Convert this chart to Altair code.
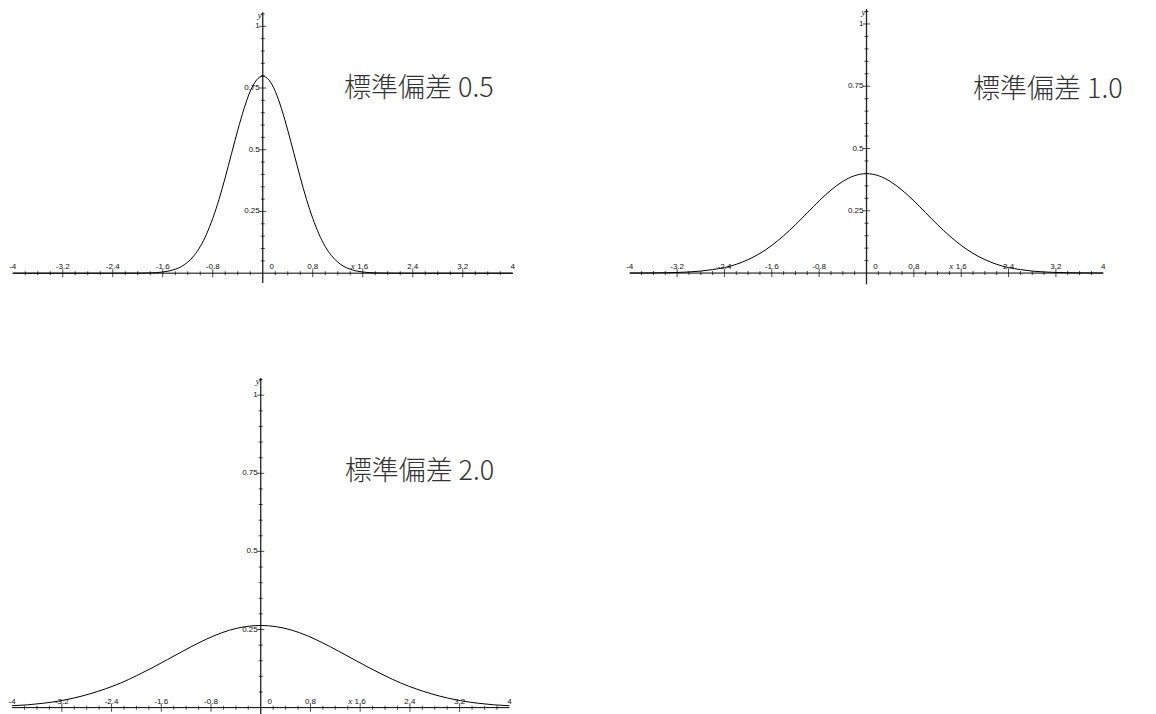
import altair as alt
import pandas as pd

# ---- curve data ----
P1_X = [-4.0, -3.0, -2.5, -2.0, -1.8, -1.6, -1.5, -1.4, -1.3, -1.2, -1.1, -1.0, -0.9, -0.8, -0.7,
        -0.6, -0.5, -0.4, -0.3, -0.2, -0.1, 0.0, 0.1, 0.2, 0.3, 0.4, 0.5, 0.6, 0.7, 0.8, 0.9, 1.0,
        1.1, 1.2, 1.3, 1.4, 1.5, 1.6, 1.8, 2.0, 2.5, 3.0, 4.0]
P1_Y = [0.0, 0.0, 0.0, 0.0003, 0.0012, 0.0048, 0.0089, 0.016, 0.027, 0.045, 0.071, 0.108, 0.158,
        0.222, 0.299, 0.388, 0.484, 0.579, 0.666, 0.737, 0.782, 0.798, 0.782, 0.737, 0.666, 0.579,
        0.484, 0.388, 0.299, 0.222, 0.158, 0.108, 0.071, 0.045, 0.027, 0.016, 0.0089, 0.0048,
        0.0012, 0.0003, 0.0, 0.0, 0.0]

P2_X = [-4.0, -3.8, -3.6, -3.4, -3.2, -3.0, -2.8, -2.6, -2.4, -2.2, -2.0, -1.8, -1.6, -1.4, -1.2,
        -1.0, -0.8, -0.6, -0.4, -0.2, 0.0, 0.2, 0.4, 0.6, 0.8, 1.0, 1.2, 1.4, 1.6, 1.8, 2.0, 2.2,
        2.4, 2.6, 2.8, 3.0, 3.2, 3.4, 3.6, 3.8, 4.0]
P2_Y = [0.0001, 0.0003, 0.0006, 0.0012, 0.0024, 0.0044, 0.0079, 0.014, 0.022, 0.035, 0.054, 0.079,
        0.111, 0.150, 0.194, 0.242, 0.290, 0.333, 0.368, 0.391, 0.399, 0.391, 0.368, 0.333, 0.290,
        0.242, 0.194, 0.150, 0.111, 0.079, 0.054, 0.035, 0.022, 0.014, 0.0079, 0.0044, 0.0024,
        0.0012, 0.0006, 0.0003, 0.0001]

P3_X = [-4.0, -3.75, -3.5, -3.25, -3.0, -2.75, -2.5, -2.25, -2.0, -1.75, -1.5, -1.25, -1.0, -0.75,
        -0.5, -0.25, 0.0, 0.25, 0.5, 0.75, 1.0, 1.25, 1.5, 1.75, 2.0, 2.25, 2.5, 2.75, 3.0, 3.25,
        3.5, 3.75, 4.0]
P3_Y = [0.006, 0.009, 0.014, 0.021, 0.031, 0.044, 0.060, 0.079, 0.102, 0.127, 0.154, 0.181, 0.207,
        0.230, 0.248, 0.259, 0.263, 0.259, 0.248, 0.230, 0.207, 0.181, 0.154, 0.127, 0.102, 0.079,
        0.060, 0.044, 0.031, 0.021, 0.014, 0.009, 0.006]

TITLES = ["標準偏差 0.5", "標準偏差 1.0", "標準偏差 2.0"]

# ---- axis ticks and labels ----
X_LABEL_POS = [-4.0, -3.2, -2.4, -1.6, -0.8, 0.8, 1.6, 2.4, 3.2, 4.0]
X_LABELS = ["-4", "-3.2", "-2.4", "-1.6", "-0.8", "0.8", "1.6", "2.4", "3.2", "4"]
X_MAJOR = [-3.2, -2.4, -1.6, -0.8, 0.8, 1.6, 2.4, 3.2]
X_MINOR = [-3.8, -3.6, -3.4, -3.0, -2.8, -2.6, -2.2, -2.0, -1.8, -1.4, -1.2, -1.0, -0.6, -0.4,
           -0.2, 0.2, 0.4, 0.6, 1.0, 1.2, 1.4, 1.8, 2.0, 2.2, 2.6, 2.8, 3.0, 3.4, 3.6, 3.8]
Y_MAJOR = [0.25, 0.5, 0.75, 1.0]
Y_LABELS = ["0.25", "0.5", "0.75", "1"]
Y_MINOR = [0.05, 0.1, 0.15, 0.2, 0.3, 0.35, 0.4, 0.45, 0.55, 0.6, 0.65, 0.7, 0.8, 0.85, 0.9,
           0.95, 1.05]

LABEL_FONT = "Liberation Sans"


def panel(xs, ys, xdom, ydom, w, h, title, tx, ty, ytop, ybot):
    sx = alt.Scale(domain=xdom, nice=False, zero=False)
    sy = alt.Scale(domain=ydom, nice=False, zero=False)

    def X(f):
        return alt.X(f, type="quantitative", scale=sx, axis=None)

    def Y(f):
        return alt.Y(f, type="quantitative", scale=sy, axis=None)

    xaxis = alt.Chart(pd.DataFrame({"x": [-4.0], "x2": [4.0], "y": [0.0]})).mark_rule(
        color="black", strokeWidth=1).encode(x=X("x"), x2=alt.X2("x2"), y=Y("y"))
    yaxis = alt.Chart(pd.DataFrame({"x": [0.0], "y": [ybot], "y2": [ytop]})).mark_rule(
        color="#222", strokeWidth=1.3).encode(x=X("x"), y=Y("y"), y2=alt.Y2("y2"))

    xminor = alt.Chart(pd.DataFrame({"x": X_MINOR, "y": [0.0] * len(X_MINOR)})).mark_tick(
        orient="vertical", size=4, thickness=1, color="black").encode(x=X("x"), y=Y("y"))
    xmajor = alt.Chart(pd.DataFrame({"x": X_MAJOR, "y": [0.0] * len(X_MAJOR)})).mark_tick(
        orient="vertical", size=8, thickness=1, color="black").encode(x=X("x"), y=Y("y"))
    yminor = alt.Chart(pd.DataFrame({"x": [0.0] * len(Y_MINOR), "y": Y_MINOR})).mark_tick(
        orient="horizontal", size=4, thickness=1, color="black").encode(x=X("x"), y=Y("y"))
    ymajor = alt.Chart(pd.DataFrame({"x": [0.0] * len(Y_MAJOR), "y": Y_MAJOR})).mark_tick(
        orient="horizontal", size=7, thickness=1, color="black").encode(x=X("x"), y=Y("y"))

    xlab = alt.Chart(pd.DataFrame({"x": X_LABEL_POS, "y": [0.0] * len(X_LABEL_POS),
                                   "t": X_LABELS})).mark_text(
        font=LABEL_FONT, fontSize=8, color="#111", baseline="alphabetic", dy=-4
    ).encode(x=X("x"), y=Y("y"), text="t:N")
    zero = alt.Chart(pd.DataFrame({"x": [0.0], "y": [0.0], "t": ["0"]})).mark_text(
        font=LABEL_FONT, fontSize=8, color="#111", baseline="alphabetic", dy=-4, dx=9
    ).encode(x=X("x"), y=Y("y"), text="t:N")
    ylab = alt.Chart(pd.DataFrame({"x": [0.0] * len(Y_MAJOR), "y": Y_MAJOR,
                                   "t": Y_LABELS})).mark_text(
        font=LABEL_FONT, fontSize=8, color="#111", align="right", baseline="middle", dx=-3
    ).encode(x=X("x"), y=Y("y"), text="t:N")
    xname = alt.Chart(pd.DataFrame({"x": [1.6], "y": [0.0], "t": ["x"]})).mark_text(
        font="Liberation Serif", fontStyle="italic", fontSize=9, color="#111",
        baseline="alphabetic", dy=-4, dx=-10
    ).encode(x=X("x"), y=Y("y"), text="t:N")
    yname = alt.Chart(pd.DataFrame({"x": [0.0], "y": [ytop], "t": ["y"]})).mark_text(
        font="Liberation Serif", fontStyle="italic", fontSize=9, color="#111",
        align="right", baseline="top", dx=-1, dy=-1
    ).encode(x=X("x"), y=Y("y"), text="t:N")

    curve = alt.Chart(pd.DataFrame({"x": xs, "y": ys})).mark_line(
        color="black", strokeWidth=1, interpolate="monotone"
    ).encode(x=X("x"), y=Y("y"))

    ttl = alt.Chart(pd.DataFrame({"x": [tx], "y": [ty], "t": [title]})).mark_text(
        font="Noto Sans CJK JP", fontSize=27, fontWeight=300, color="#333",
        align="left", baseline="middle"
    ).encode(x=X("x"), y=Y("y"), text="t:N")

    return alt.layer(xaxis, yaxis, xminor, xmajor, yminor, ymajor, xlab, zero, ylab,
                     xname, yname, curve, ttl).properties(width=w, height=h)


p1 = panel(P1_X, P1_Y, [-4.06, 4.34], [-0.06, 1.07], 525, 279, TITLES[0], 1.30, 0.745, 1.057, -0.04)
p2 = panel(P2_X, P2_Y, [-4.3, 4.3], [-0.06, 1.06], 509, 279, TITLES[1], 1.80, 0.735, 1.06, -0.045)
p3 = panel(P3_X, P3_Y, [-4.05, 4.3], [-0.03, 1.055], 519, 339, TITLES[2], 1.35, 0.753, 1.055, -0.03)

chart = alt.concat(
    p1, p2, p3, columns=2, bounds="flush",
    spacing=alt.RowColnumber(row=90, column=78)
).properties(padding=0, background="white").configure_view(stroke=None)

chart.save("out.html", embed_options={"renderer": "svg", "actions": False})
